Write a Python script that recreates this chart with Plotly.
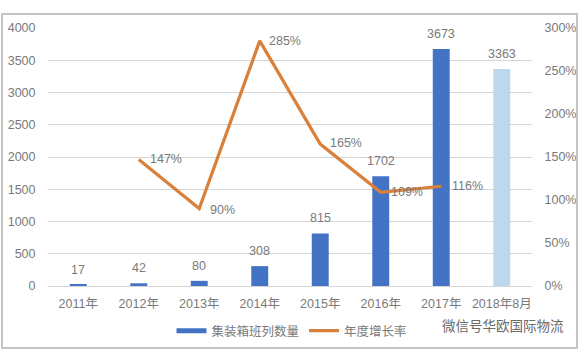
import plotly.graph_objects as go

categories = ["2011年", "2012年", "2013年", "2014年", "2015年", "2016年", "2017年", "2018年8月"]
train_counts = [17, 42, 80, 308, 815, 1702, 3673, 3363]
growth_rates = [None, 1.47, 0.90, 2.85, 1.65, 1.09, 1.16, None]
growth_labels = [None, "147%", "90%", "285%", "165%", "109%", "116%", None]
bar_colors = ["#4472C4"] * 7 + ["#BDD7EE"]
label_xshift = [0, 27, 23, 25, 26, 26, 26, 0]
label_yshift = [0, 1, -1, 0, 1, 0, 0, 0]
bar_name = "集装箱班列数量"
line_name = "年度增长率"

FONT = "Liberation Sans, Noto Sans CJK SC, sans-serif"
GREY = "#7a7a7a"
SIZE = 12.5

fig = go.Figure()
fig.add_trace(go.Bar(
    x=categories, y=train_counts, name=bar_name, showlegend=False,
    marker=dict(color=bar_colors, line_width=0), width=0.28, yaxis="y",
))
fig.add_trace(go.Scatter(
    x=[categories[0]], y=[None], name=bar_name, mode="lines",
    line=dict(color="#4472C4", width=5), yaxis="y",
))
fig.add_trace(go.Scatter(
    x=categories, y=growth_rates, name=line_name, mode="lines",
    line=dict(color="#D9803A", width=3.2), yaxis="y2",
))

annotations = []
for cat, count in zip(categories, train_counts):
    annotations.append(dict(x=cat, y=count, yref="y", text=str(count), showarrow=False,
                            yshift=15, font=dict(size=SIZE, color=GREY)))
for cat, rate, lab, dx, dy in zip(categories, growth_rates, growth_labels, label_xshift, label_yshift):
    if rate is None:
        continue
    annotations.append(dict(x=cat, y=rate, yref="y2", text=lab, showarrow=False,
                            xshift=dx, yshift=dy, font=dict(size=SIZE, color=GREY)))
annotations.append(dict(xref="paper", yref="paper", x=(566 - 48) / 484, y=(286 - 326) / 258,
                        xanchor="right", yanchor="middle", text="微信号华欧国际物流", showarrow=False,
                        font=dict(size=13.5, color="#6a6a6a")))

fig.update_layout(
    width=581, height=353,
    margin=dict(l=48, r=49, t=28, b=67),
    paper_bgcolor="white", plot_bgcolor="white",
    font=dict(family=FONT, size=SIZE, color=GREY),
    showlegend=True,
    legend=dict(orientation="h", xref="container", yref="container",
                x=292 / 581, xanchor="center", y=1 - 331 / 353, yanchor="middle",
                font=dict(size=SIZE, color=GREY), itemwidth=30),
    xaxis=dict(type="category", categoryorder="array", categoryarray=categories,
               automargin=False, showgrid=False, showline=True, linecolor="#D5D5D5",
               ticks="outside", ticklen=6, tickcolor="rgba(0,0,0,0)",
               tickfont=dict(size=SIZE, color=GREY)),
    yaxis=dict(range=[0, 4000], dtick=500, showgrid=True, gridcolor="#D5D5D5",
               automargin=False, zeroline=False, tickfont=dict(size=SIZE, color=GREY),
               ticks="outside", ticklen=9, tickcolor="rgba(0,0,0,0)"),
    yaxis2=dict(range=[0, 3], dtick=0.5, tickformat=".0%", overlaying="y", side="right",
                automargin=False, showgrid=False, zeroline=False, tickfont=dict(size=SIZE, color=GREY),
                ticks="outside", ticklen=9, tickcolor="rgba(0,0,0,0)"),
    annotations=annotations,
)

frame_js = """
document.body.style.margin='0';
var f=document.createElement('div');
f.style.cssText='position:absolute;z-index:9999;left:1px;top:13px;width:577px;height:336px;border:2px solid #C4C4C4;pointer-events:none;box-sizing:border-box';
document.body.appendChild(f);
"""
fig.write_html("out.html", config={"displayModeBar": False}, post_script=frame_js)
